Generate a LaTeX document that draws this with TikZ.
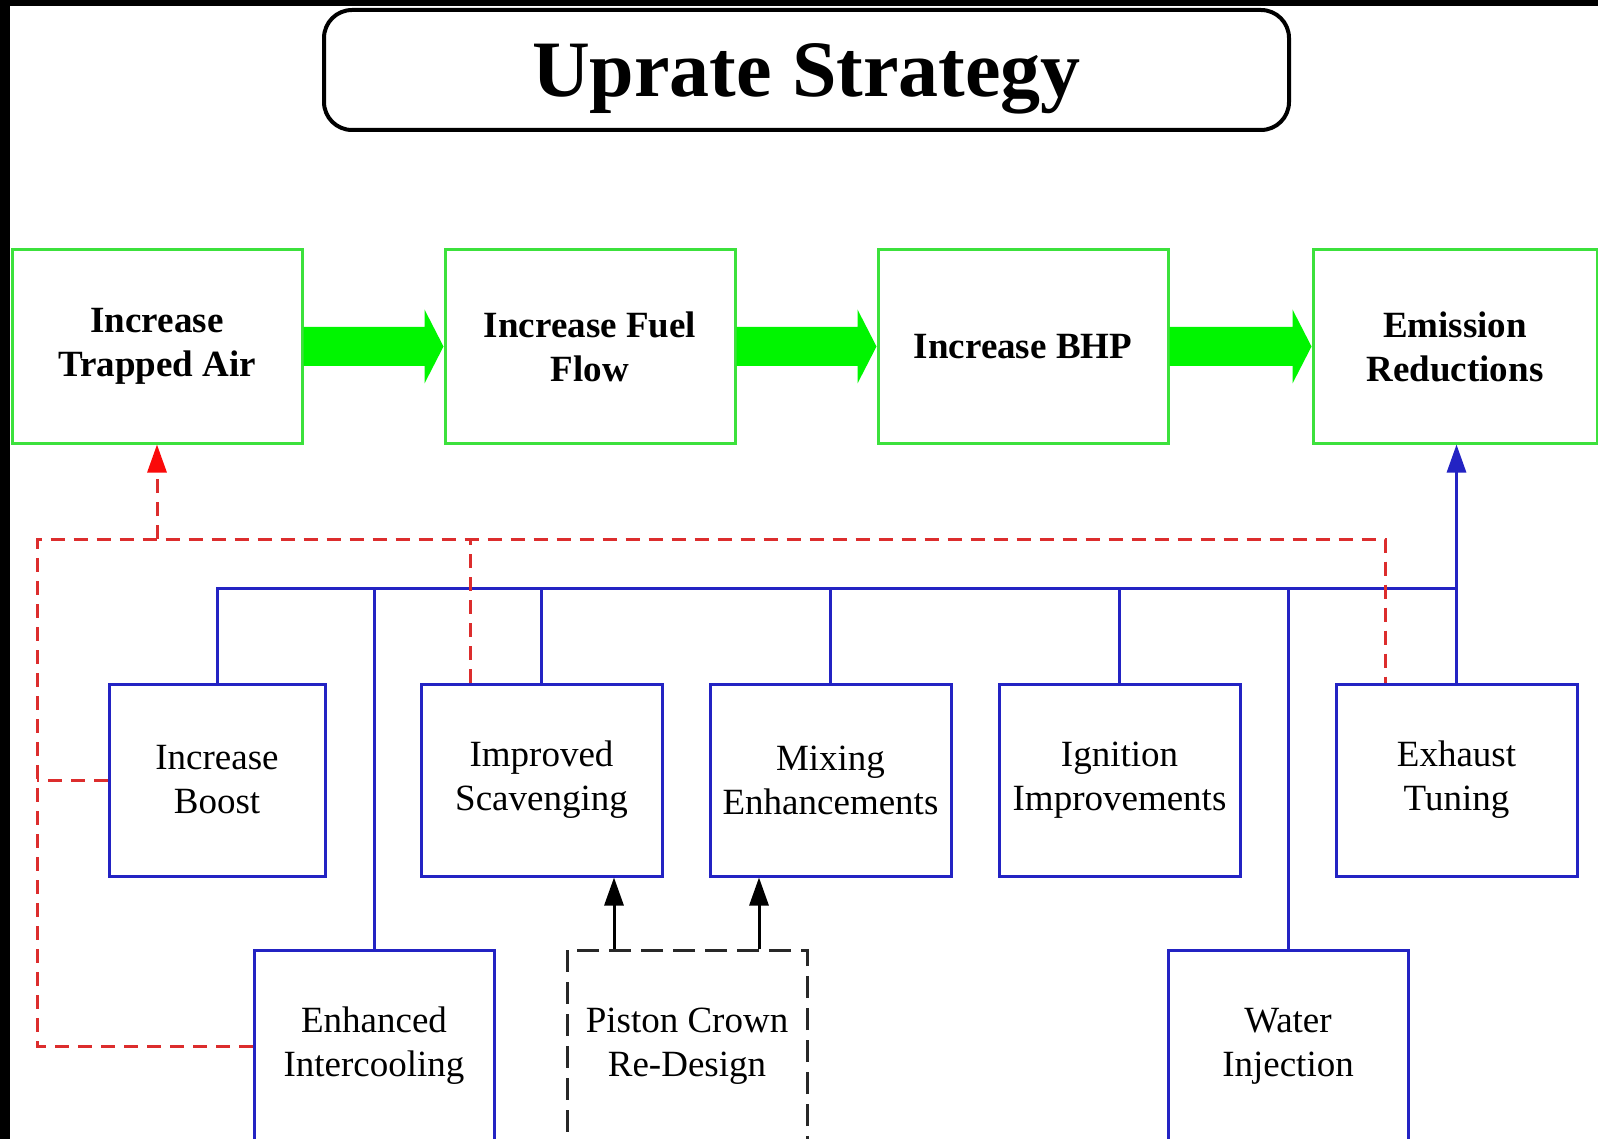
\documentclass[tikz,border=0pt]{standalone}
\usepackage{fontspec}
\setmainfont{Liberation Serif}
\usetikzlibrary{calc,arrows.meta}
\definecolor{boxgreen}{RGB}{60,225,60}
\definecolor{arrowgreen}{RGB}{0,245,0}
\definecolor{boxblue}{RGB}{35,35,195}
\definecolor{dashred}{RGB}{220,45,45}
\definecolor{tipred}{RGB}{250,10,10}
\definecolor{darkline}{RGB}{40,40,40}
\begin{document}
\begin{tikzpicture}[x=1pt,y=-1pt,
  titlebox/.style={draw=black, line width=4pt, rounded corners=28pt, minimum width=965pt, minimum height=120pt, inner sep=0pt, text height=64pt, text depth=10pt, font=\bfseries\fontsize{80}{92}\selectfont},
  greenbox/.style={draw=boxgreen, line width=3pt, minimum width=290pt, minimum height=193pt, inner sep=0pt, align=center, font=\bfseries\fontsize{37}{44}\selectfont},
  bluebox/.style={draw=boxblue, line width=3pt, minimum width=241pt, minimum height=192pt, inner sep=0pt, align=center, font=\fontsize{37}{44}\selectfont},
  pistonbox/.style={draw=darkline, line width=3pt, dash pattern=on 22pt off 10pt, minimum width=240pt, minimum height=192pt, inner sep=0pt, align=center, font=\fontsize{37}{44}\selectfont},
  blueline/.style={draw=boxblue, line width=3pt},
  redline/.style={draw=dashred, line width=3pt, dash pattern=on 14pt off 9pt},
  redtip/.style={-{Triangle[length=28pt,width=19pt,color=tipred]}},
  blacktip/.style={draw=black, line width=3pt, -{Triangle[length=28pt,width=19pt]}}
]
\useasboundingbox (0,0) rectangle (1598,1139);
\fill[black] (0,0) rectangle (1598,1139);
\fill[white] (10,6) rectangle (1598,1139);
\clip (10,6) rectangle (1598,1139);

% title
\node[titlebox] (title) at (806.5,70) {Uprate Strategy};

% green chain
\node[greenbox] (g1) at (157,346.5) {Increase\\Trapped Air};
\node[greenbox] (g2) at (590,346.5) {Increase Fuel\\Flow};
\node[greenbox] (g3) at (1023,346.5) {Increase BHP};
\node[greenbox, minimum width=284pt] (g4) at (1455,346.5) {Emission\\Reductions};

\foreach \a/\b in {g1/g2,g2/g3,g3/g4}{
  \fill[arrowgreen] ($(\a.east)+(0,-19.5)$) -- ($(\b.west)+(-19,-19.5)$) -- ($(\b.west)+(-19,-37)$) -- (\b.west) -- ($(\b.west)+(-19,37)$) -- ($(\b.west)+(-19,19.5)$) -- ($(\a.east)+(0,19.5)$) -- cycle;
}

% blue boxes
\node[bluebox, minimum width=216pt] (boost) at (217,780) {Increase\\Boost};
\node[bluebox] (scav) at (541.5,780) {Improved\\Scavenging};
\node[bluebox] (mix) at (830.5,780) {Mixing\\Enhancements};
\node[bluebox] (ign) at (1119.5,780) {Ignition\\Improvements};
\node[bluebox] (exh) at (1456.5,780) {Exhaust\\Tuning};
\node[bluebox, minimum width=240pt] (inter) at (374,1046) {Enhanced\\Intercooling};
\node[pistonbox] (pist) at (687,1046) {Piston Crown\\Re-Design};
\node[bluebox, minimum width=240pt] (water) at (1288,1046) {Water\\Injection};

% blue bus
\coordinate (busR) at (1456.5,588);
\draw[blueline] (boost.north) |- (busR);
\foreach \n in {scav,mix,ign,exh,inter,water}{
  \draw[blueline] (\n.north) -- (\n.north |- busR);
}
\draw[blueline, -{Triangle[length=28pt,width=19pt,color=boxblue]}] (busR) -- (busR |- g4.south);

% red dashed feedback
\coordinate (rL) at (37,539);
\coordinate (rR) at (1385,539);
\draw[redline] (inter.west) -| (rL) -- (rR) -- (rR |- exh.north);
\draw[redline] (boost.west) -- (boost.west -| rL);
\draw[redline] ([xshift=-71.5pt]scav.north) -- ([xshift=-71.5pt]scav.north |- rL);
\draw[redline, redtip] (g1.south |- rL) -- (g1.south);

% piston arrows
\draw[blacktip] ([xshift=-73pt]pist.north) -- ([xshift=-73pt]pist.north |- scav.south);
\draw[blacktip] ([xshift=72pt]pist.north) -- ([xshift=72pt]pist.north |- mix.south);
\end{tikzpicture}
\end{document}
